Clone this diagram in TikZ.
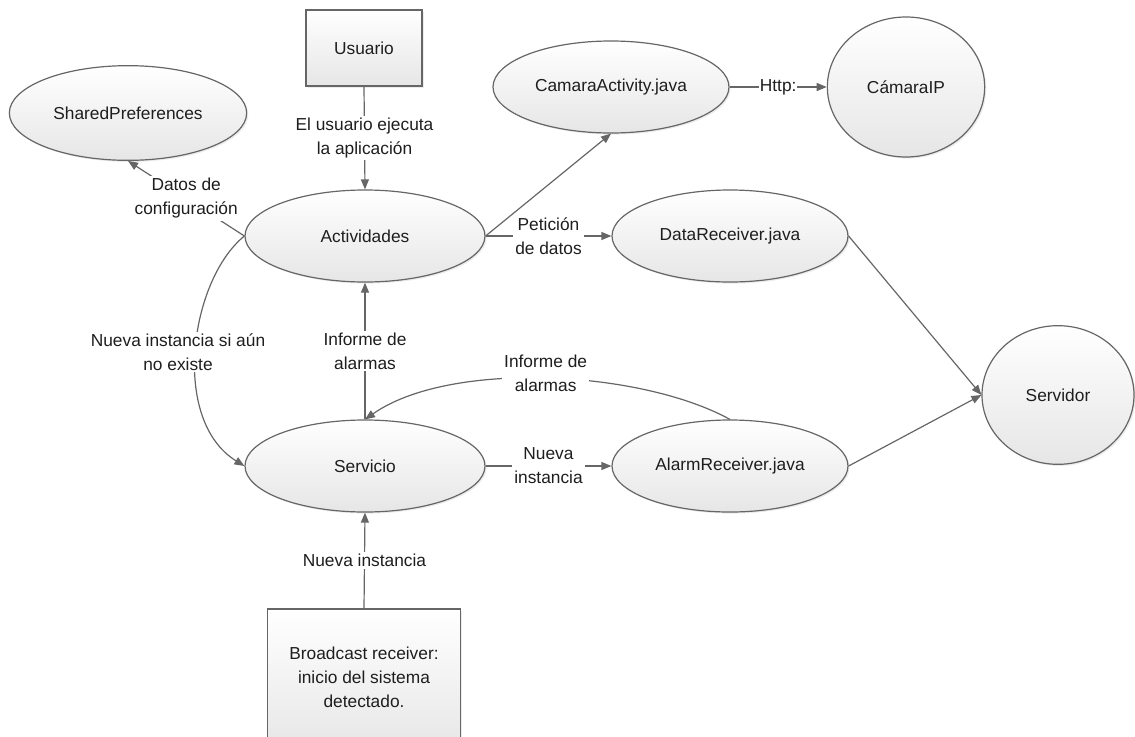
\documentclass[tikz,border=0pt]{standalone}
\usepackage{fontspec}
\setmainfont{Liberation Sans}
\usetikzlibrary{shapes.geometric,arrows.meta,shadows}

\definecolor{edgegray}{HTML}{666666}
\definecolor{txt}{HTML}{1E1E1E}
\definecolor{fillbot}{HTML}{E6E6E6}

\tikzset{
  base/.style={draw=edgegray, line width=0.9pt, top color=white, bottom color=fillbot,
    text=txt, align=center, inner sep=0pt,
    drop shadow={shadow xshift=1.2pt, shadow yshift=-1.2pt, opacity=0.15}},
  oval/.style={base, ellipse},
  boxnode/.style={base, rectangle},
  conn/.style={draw=edgegray, line width=0.9pt, -{Triangle[length=7.5pt,width=6pt]}},
  lbl/.style={fill=white, text=txt, align=center, inner sep=1.5pt},
}

\begin{document}
\begin{tikzpicture}[x=0.75pt, y=-0.75pt, font=\fontsize{13}{18}\selectfont]
  \useasboundingbox (0,0) rectangle (1135,736);
  \clip (0,0) rectangle (1135,736);

  % nodes
  \node[boxnode, minimum width=87pt, minimum height=57pt] (usuario) at (364,48) {Usuario};
  \node[oval, minimum width=178pt, minimum height=71pt] (shared) at (128,113) {SharedPreferences};
  \node[oval, minimum width=180pt, minimum height=69pt] (act) at (365,236) {Actividades};
  \node[oval, minimum width=177pt, minimum height=69pt] (cam) at (611,87) {CamaraActivity.java};
  \node[oval, minimum width=118pt, minimum height=105pt] (ip) at (906,87) {CámaraIP};
  \node[oval, minimum width=177pt, minimum height=69pt] (data) at (730,236) {DataReceiver.java};
  \node[oval, minimum width=114pt, minimum height=104pt] (srv) at (1058,395) {Servidor};
  \node[oval, minimum width=180pt, minimum height=69pt] (serv) at (365,466) {Servicio};
  \node[oval, minimum width=177pt, minimum height=69pt] (alarm) at (730,466) {AlarmReceiver.java};
  \node[boxnode, minimum width=145pt, minimum height=108pt, text depth=0pt] (boot) at (364,681)
    {\raisebox{28pt}{\begin{tabular}{@{}c@{}}Broadcast receiver:\\inicio del sistema\\detectado.\end{tabular}}};

  % connectors
  \draw[conn] (usuario.south) -- node[lbl] {El usuario ejecuta\\la aplicación} (act.north);
  \draw[conn] (act.west) -- node[lbl] {Datos de\\configuración} (shared.south);
  \draw[conn] (act.east) -- (cam.south);
  \draw[conn] (cam.east) -- node[lbl, inner sep=0.5pt] {Http:} (ip.west);
  \draw[conn] (act.east) -- node[lbl] {Petición\\de datos} (data.west);
  \draw[conn] (data.east) -- (srv.west);
  \draw[conn] (alarm.east) -- (srv.west);
  \draw[conn] (serv.north) -- node[lbl] {Informe de\\alarmas} (act.south);
  \draw[conn] (serv.east) -- node[lbl] {Nueva\\instancia} (alarm.west);
  \draw[conn] (boot.north) -- node[lbl] {Nueva instancia} (serv.south);
  \draw[conn] (alarm.north) .. controls (640,370) and (450,360) .. (serv.north)
    node[lbl, pos=0.5, yshift=4pt] {Informe de\\alarmas};
  \draw[conn] (act.west) .. controls (190,280) and (170,420) .. (serv.west);
  \node[lbl] (newinst) at (178,352) {Nueva instancia si aún\\no existe};
\end{tikzpicture}
\end{document}
